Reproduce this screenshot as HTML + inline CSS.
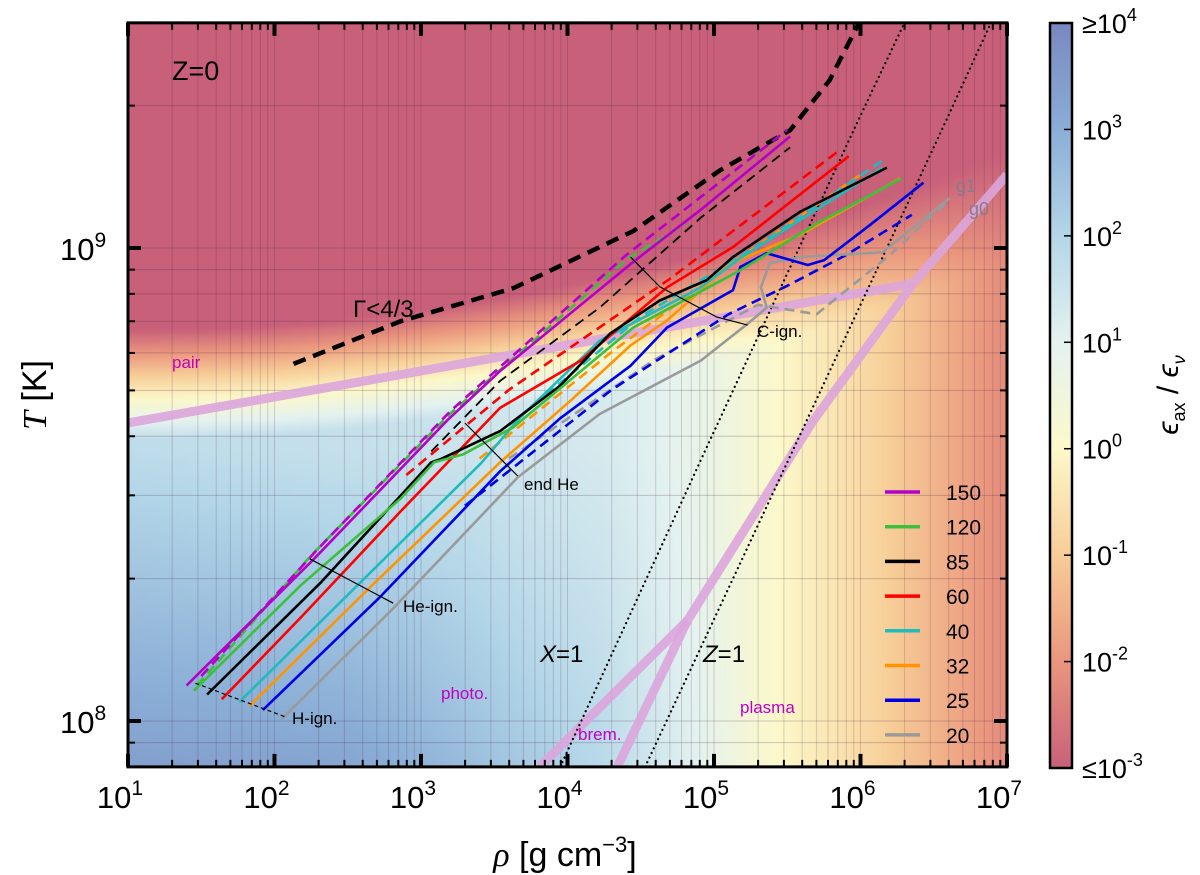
<!DOCTYPE html>
<html><head><meta charset="utf-8">
<style>
html,body{margin:0;padding:0;background:#fff;}
#wrap{position:relative;width:1200px;height:875px;overflow:hidden;}
#bg{position:absolute;left:128px;top:23px;width:879px;height:745px;}
svg{position:absolute;left:0;top:0;}
text{font-family:"Liberation Sans","DejaVu Sans",sans-serif;}
</style></head>
<body>
<div id="wrap">
<canvas id="bg" width="220" height="187"></canvas>
<svg id="plot" width="1200" height="875"></svg>
</div>
<script>
// ---- data (log10 rho [g/cm3], log10 T [K]) ----
const massLabels = ["150","120","85","60","40","32","25","20"];
const massColors = ["#b400c8","#3cc03c","#000000","#ff0000","#1ebcbc","#ff9400","#0000e6","#9a9a9a"];
const track150 = [[1.40,8.075],[2.27,8.343],[3.18,8.636],[3.54,8.740],[4.43,8.966],[4.91,9.081],[5.52,9.236]];
const track120 = [[1.45,8.064],[2.18,8.287],[2.86,8.470],[3.09,8.547],[3.29,8.564],[3.63,8.621],[4.45,8.832],[5.18,8.953],[5.72,9.055],[6.28,9.147]];
const track85  = [[1.54,8.056],[2.32,8.294],[3.07,8.547],[3.13,8.553],[3.54,8.613],[3.95,8.709],[4.29,8.819],[4.63,8.889],[4.95,8.932],[5.13,8.981],[5.59,9.077],[6.18,9.170]];
const track60  = [[1.64,8.046],[2.18,8.219],[2.86,8.443],[3.54,8.662],[4.09,8.762],[4.68,8.917],[5.13,9.002],[5.92,9.194]];
const track40  = [[1.76,8.040],[2.59,8.294],[3.41,8.545],[3.68,8.643],[4.22,8.804],[4.91,8.917],[5.18,8.979],[6.15,9.170]];
const track32  = [[1.83,8.032],[2.64,8.279],[3.54,8.547],[4.02,8.677],[4.43,8.794],[4.68,8.847],[5.13,8.970],[5.59,9.028],[6.27,9.147]];
const track25  = [[1.92,8.023],[2.72,8.262],[3.54,8.528],[3.95,8.640],[4.43,8.751],[4.68,8.832],[5.13,8.911],[5.18,8.960],[5.36,8.989],[5.64,8.964],[5.75,8.974],[6.05,9.045],[6.43,9.138]];
const track20  = [[2.05,8.004],[2.81,8.238],[3.66,8.515],[4.22,8.649],[4.91,8.762],[5.23,8.840],[5.36,8.874],[5.32,8.917],[5.38,8.968],[5.59,8.981],[6.15,8.991],[6.61,9.106]];
const dash150 = [[1.50,8.095],[2.30,8.365],[3.20,8.655],[4.40,8.985],[5.50,9.250]];
const dash120 = [[1.47,8.075],[2.25,8.350],[3.20,8.650],[4.40,8.975],[4.80,9.050]];
const dash85  = [[3.07,8.570],[3.54,8.719],[4.22,8.874],[4.91,9.064],[5.52,9.213]];
const dash60  = [[2.90,8.520],[3.60,8.700],[4.70,8.935],[5.85,9.205]];
const dash40  = [[3.60,8.625],[4.50,8.855],[5.30,9.005],[6.15,9.185]];
const dash32  = [[3.40,8.555],[4.30,8.780],[5.20,8.985],[6.00,9.155]];
const dash25  = [[3.30,8.455],[4.30,8.700],[5.10,8.860],[5.50,8.920],[5.90,8.985],[6.35,9.070]];
const dash20  = [[3.60,8.555],[4.60,8.765],[5.30,8.880],[5.70,8.860],[6.20,8.985],[6.60,9.100]];
const gammaCurve = [[2.13,8.755],[2.86,8.845],[3.63,8.915],[4.45,9.036],[5.04,9.164],[5.52,9.249],[5.79,9.355],[5.99,9.476]];
const pairLine = [[1.00,8.630],[6.36,8.925]];
const plasmaLine = [[7.00,9.155],[6.36,8.925],[5.68,8.636],[5.55,8.573],[4.82,8.213],[4.34,7.903]];
const bremLine = [[4.82,8.213],[3.81,7.903]];
const xEq1 = [[3.95,7.903],[4.93,8.565],[5.98,9.267],[6.30,9.476]];
const zEq1 = [[4.53,7.903],[5.52,8.560],[6.59,9.273],[6.89,9.476]];
const heIgn = [[2.24,8.343],[2.81,8.249]];
const endHe = [[3.30,8.630],[3.66,8.518]];
const cIgn  = [[4.43,8.981],[4.63,8.918],[5.02,8.854],[5.23,8.837]];
const hIgn  = [[1.46,8.080],[2.08,8.008]];
const xTickExp = [1,2,3,4,5,6,7];
const yTickExp = [8,9];
const cbarExp = [4,3,2,1,0,-1,-2,-3];

// ---- axes ----
const X0=128, XD=146.5, Y9=248, YD=473, XMIN=1, XMAX=7, YMIN=7.903, YMAX=9.476;
const X = v => X0 + (v - 1) * XD;
const Y = v => Y9 - (v - 9) * YD;
const PL=X(XMIN), PR=X(XMAX), PT=Y(YMAX), PB=Y(YMIN);

// ---- background field ----
(function(){
  const cv=document.getElementById('bg'); const ctx=cv.getContext('2d');
  const W=cv.width,H=cv.height; const img=ctx.createImageData(W,H);
  const stops=[[4,[122,136,192]],[3,[138,174,214]],[2,[180,214,232]],[1,[228,242,240]],[0,[252,248,202]],[-1,[247,206,152]],[-2,[234,150,126]],[-3,[200,96,122]]];
  function cmap(f){f=Math.max(-3,Math.min(4,f));for(let k=0;k<stops.length-1;k++){const a=stops[k],b=stops[k+1];if(f<=a[0]&&f>=b[0]){const t=(a[0]-f)/(a[0]-b[0]);return a[1].map((c,i)=>c+(b[1][i]-c)*t);}}return stops[7][1];}
  const bx=[128,400,600,700,780,850,920,1007], bv=[1.8,1.6,1.3,0.8,0.0,-0.6,-1.3,-2.2];
  function base(x){for(let k=0;k<bx.length-1;k++){if(x<=bx[k+1]){const t=(x-bx[k])/(bx[k+1]-bx[k]);return bv[k]+(bv[k+1]-bv[k])*t;}}return bv[bv.length-1];}
  for(let j=0;j<H;j++)for(let i=0;i<W;i++){
    const x=128+(i+0.5)*879/W, y=23+(j+0.5)*745/H;
    const u=(x-128)/880; const yb=330-180*u*u;
    const w=Math.max(0,Math.min(1,(750-x)/400));
    const g=base(x)+Math.max(0,(y-450)/318)*1.6*w;
    let f; if(y<yb) f=-3; else {const t=(y-yb)/110; f=t>=1?g:-3+(g+3)*t;}
    const c=cmap(f); const p=(j*W+i)*4; img.data[p]=c[0];img.data[p+1]=c[1];img.data[p+2]=c[2];img.data[p+3]=255;
  }
  ctx.putImageData(img,0,0);
})();

// ---- svg ----
const svg=document.getElementById('plot'); const NS='http://www.w3.org/2000/svg';
function mk(tag,attrs,parent){const e=document.createElementNS(NS,tag);for(const k in attrs)e.setAttribute(k,attrs[k]);(parent||svg).appendChild(e);return e;}
function pathD(pts){return pts.map((p,i)=>(i?'L':'M')+X(p[0]).toFixed(1)+','+Y(p[1]).toFixed(1)).join(' ');}
const defs=mk('defs',{});
const cp=mk('clipPath',{id:'clip'},defs); mk('rect',{x:PL,y:PT,width:PR-PL,height:PB-PT},cp);
const cg=mk('linearGradient',{id:'cbgrad',x1:0,y1:0,x2:0,y2:1},defs);
[['0','#7a88c0'],['0.143','#8aaed6'],['0.286','#b4d6e8'],['0.429','#e4f2f0'],['0.571','#fcf8ca'],['0.714','#f7cd98'],['0.857','#ea967e'],['1','#c8607a']].forEach(s=>mk('stop',{offset:s[0],'stop-color':s[1]},cg));

// grid
const grid=mk('g',{'clip-path':'url(#clip)'});


for(let d=1;d<7;d++)for(let m=1;m<10;m++){const v=d+Math.log10(m);const gl=mk('line',{x1:X(v),x2:X(v),y1:PT,y2:PB,stroke:'rgba(60,20,60,0.18)','stroke-width':1},grid);}
for(let d=7;d<10;d++)for(let m=1;m<10;m++){const v=d+Math.log10(m);if(v<YMIN||v>YMAX)continue;const gl=mk('line',{x1:PL,x2:PR,y1:Y(v),y2:Y(v),stroke:'rgba(60,20,60,0.22)','stroke-width':1},grid);}

const g=mk('g',{'clip-path':'url(#clip)'});


[[pairLine,'pair-boundary'],[plasmaLine,'plasma-boundary'],[bremLine,'brem-boundary']].forEach(a=>{const e=mk('path',{d:pathD(a[0]),fill:'none',stroke:'#dba5dc','stroke-width':9,'stroke-opacity':0.9},g);});
[[xEq1,'x-equals-1-line'],[zEq1,'z-equals-1-line']].forEach(a=>{const e=mk('path',{d:pathD(a[0]),fill:'none',stroke:'#000','stroke-width':2.2,'stroke-dasharray':'0.1 5','stroke-linecap':'round'},g);});
const gam=mk('path',{d:pathD(gammaCurve),fill:'none',stroke:'#000','stroke-width':4.5,'stroke-dasharray':'13 8'},g);


const solids=[track150,track120,track85,track60,track40,track32,track25,track20];
const dashes=[dash150,dash120,dash85,dash60,dash40,dash32,dash25,dash20];
for(let k=7;k>=0;k--){
  const dd=mk('path',{d:pathD(dashes[k]),fill:'none',stroke:massColors[k],'stroke-width':k==2?1.8:2.6,'stroke-dasharray':'10 6'},g);
  
  
}
for(let k=7;k>=0;k--){
  const ss=mk('path',{d:pathD(solids[k]),fill:'none',stroke:massColors[k],'stroke-width':2.6,'stroke-linejoin':'round'},g);
  
  
}
[[heIgn,'he-ign-marker',''],[endHe,'end-he-marker',''],[cIgn,'c-ign-marker',''],[hIgn,'h-ign-marker','4 3']].forEach(a=>{const e=mk('path',{d:pathD(a[0]),fill:'none',stroke:'#000','stroke-width':1.2,'stroke-dasharray':a[2]||'none'},g);});

function txt(s,x,y,attrs,name){const t=mk('text',Object.assign({x:x,y:y},attrs||{}));t.innerHTML=s;return t;}
txt('Z=0',172,80,{'font-size':27},'metallicity-label');
txt('pair',172,368,{'font-size':17,fill:'#c000c0'},'pair-label');
txt('photo.',441,699,{'font-size':17,fill:'#c000c0'},'photo-label');
txt('brem.',578,740,{'font-size':17,fill:'#c000c0'},'brem-label');
txt('plasma',740,713,{'font-size':17,fill:'#c000c0'},'plasma-label');
txt('Γ&lt;4/3',353,317,{'font-size':24,'font-family':'Liberation Serif, serif'},'gamma-label');
txt('<tspan font-style="italic">X</tspan>=1',540,662,{'font-size':24,'font-family':'Liberation Serif, serif'},'x-equals-1-label');
txt('<tspan font-style="italic">Z</tspan>=1',703,662,{'font-size':24,'font-family':'Liberation Serif, serif'},'z-equals-1-label');
txt('end He',524,490,{'font-size':17},'end-he-label');
txt('He-ign.',403,612,{'font-size':17},'he-ign-label');
txt('H-ign.',292,724,{'font-size':17},'h-ign-label');
txt('C-ign.',757,337,{'font-size':17},'c-ign-label');
txt('g1',956,192,{'font-size':18,fill:'#8a7a8a'},'g1-label');
txt('g0',969,215,{'font-size':18,fill:'#8a7a8a'},'g0-label');

const lg=mk('g',{});


for(let k=0;k<8;k++){const y=492+k*34.7;
  const ll=mk('line',{x1:885,x2:920,y1:y,y2:y,stroke:massColors[k],'stroke-width':3.5},lg);
  
  
  const lt=mk('text',{x:946,y:y+8,'font-size':21},lg); lt.textContent=massLabels[k];
  
  
}

const ax=mk('g',{});


mk('rect',{x:PL,y:PT,width:PR-PL,height:PB-PT,fill:'none',stroke:'#000','stroke-width':3},ax);
for(let d=1;d<=7;d++)for(let m=1;m<10;m++){if(d==7&&m>1)break;const v=d+Math.log10(m);const L=m==1?13:7,W=m==1?4:2;
  mk('line',{x1:X(v),x2:X(v),y1:PB,y2:PB-L,stroke:'#000','stroke-width':W},ax);
  mk('line',{x1:X(v),x2:X(v),y1:PT,y2:PT+L,stroke:'#000','stroke-width':W},ax);}
for(let d=7;d<10;d++)for(let m=1;m<10;m++){const v=d+Math.log10(m);if(v<YMIN||v>YMAX)continue;const L=m==1?13:7,W=m==1?4:2;
  mk('line',{x1:PL,x2:PL+L,y1:Y(v),y2:Y(v),stroke:'#000','stroke-width':W},ax);
  mk('line',{x1:PR,x2:PR-L,y1:Y(v),y2:Y(v),stroke:'#000','stroke-width':W},ax);}
xTickExp.forEach(e=>{const t=mk('text',{x:X(e)-8,y:808,'font-size':31,'text-anchor':'middle'},ax);t.innerHTML='10<tspan dy="-13" font-size="21">'+e+'</tspan>';});
yTickExp.forEach(e=>{const t=mk('text',{x:60,y:Y(e)+12,'font-size':31},ax);t.innerHTML='10<tspan dy="-13" font-size="21">'+e+'</tspan>';});
const xt=mk('text',{x:565,y:866,'font-size':34,'text-anchor':'middle'},ax);
xt.innerHTML='<tspan font-family="Liberation Serif, serif" font-style="italic">ρ</tspan> [g cm<tspan dy="-14" font-size="22">−3</tspan><tspan dy="14">]</tspan>';

const yt=mk('text',{x:0,y:0,'font-size':34,'text-anchor':'middle',transform:'translate(46,395) rotate(-90)'},ax);
yt.innerHTML='<tspan font-family="Liberation Serif, serif" font-style="italic">T</tspan> [K]';


const cb=mk('g',{});


mk('rect',{x:1050,y:23,width:22,height:745,fill:'url(#cbgrad)',stroke:'#000','stroke-width':2.5},cb);
const cbT=v=>23+(4-v)*745/7;
cbarExp.forEach((e,i)=>{const y=cbT(e);
  if(i>0&&i<7) mk('line',{x1:1064,x2:1072,y1:y,y2:y,stroke:'#000','stroke-width':1.5},cb);
  const pre=i==0?'≥':(i==7?'≤':'');
  const t=mk('text',{x:1082,y:y+10,'font-size':27},cb);
  t.innerHTML=pre+'10<tspan dy="-12" font-size="18">'+(e<0?'-'+(-e):e)+'</tspan>';
  });
const ct=mk('text',{x:0,y:0,'font-size':30,'text-anchor':'middle','font-family':'Liberation Serif, serif',transform:'translate(1178,395) rotate(-90)'},cb);
ct.innerHTML='<tspan font-style="italic">ϵ</tspan><tspan dy="7" font-size="18">ax</tspan><tspan dy="-7"> / </tspan><tspan font-style="italic">ϵ</tspan><tspan dy="7" font-size="18" font-style="italic">ν</tspan>';

</script>
</body></html>
